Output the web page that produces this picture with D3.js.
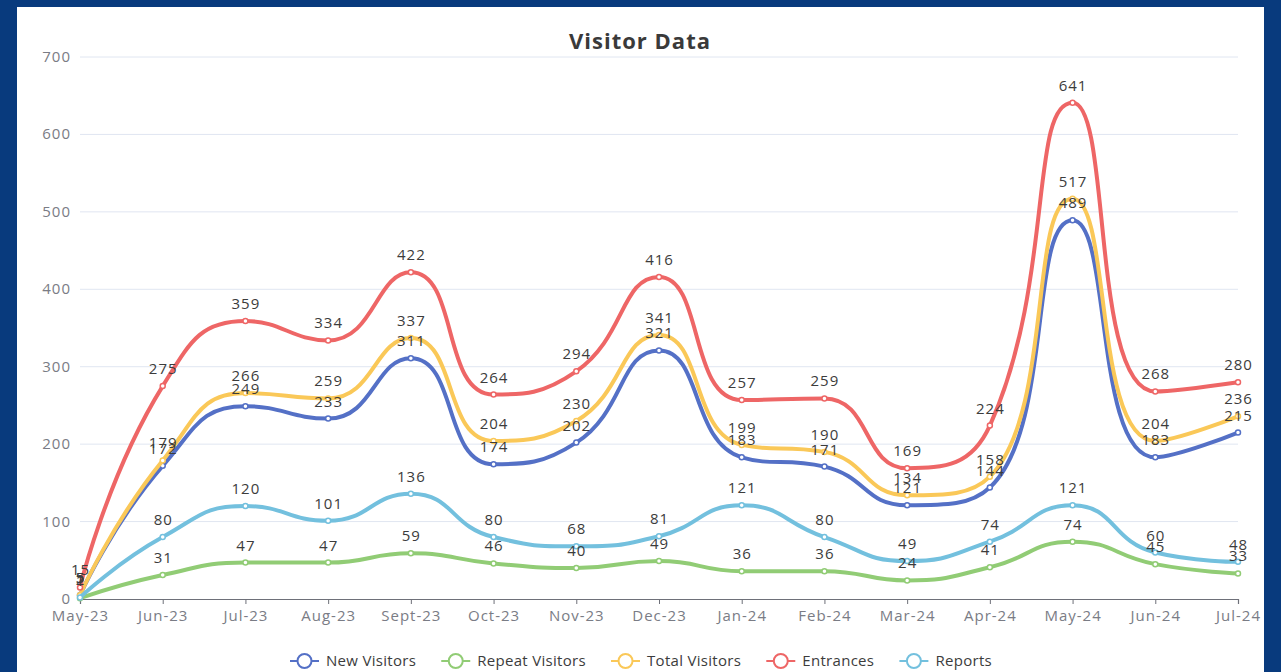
<!DOCTYPE html>
<html>
<head>
<meta charset="utf-8">
<script src="https://cdn.jsdelivr.net/npm/d3@7"></script>
<style>
  html, body { margin: 0; padding: 0; background: #083a7d; overflow: hidden; }
  #chart { position: absolute; left: 17px; top: 7px; width: 1247px; height: 680px; background: #fff; }
  text { font-family: "Open Sans", "Noto Sans", sans-serif; }
</style>
</head>
<body>
<div id="chart"></div>
<script>
// data
var months = ["May-23","Jun-23","Jul-23","Aug-23","Sept-23","Oct-23","Nov-23","Dec-23","Jan-24","Feb-24","Mar-24","Apr-24","May-24","Jun-24","Jul-24"];
var newVisitors    = [5,172,249,233,311,174,202,321,183,171,121,144,489,183,215];
var repeatVisitors = [1,31,47,47,59,46,40,49,36,36,24,41,74,45,33];
var totalVisitors  = [5,179,266,259,337,204,230,341,199,190,134,158,517,204,236];
var entrances      = [15,275,359,334,422,264,294,416,257,259,169,224,641,268,280];
var reports        = [2,80,120,101,136,80,68,81,121,80,49,74,121,60,48];
var yTicks = [0,100,200,300,400,500,600,700];

var seriesNames = ["New Visitors","Repeat Visitors","Total Visitors","Entrances","Reports"];
var seriesColors = ["#5470c6","#91cc75","#fac858","#ee6666","#73c0de"];
var series = [newVisitors, repeatVisitors, totalVisitors, entrances, reports].map(function(v,i){
  return {name: seriesNames[i], color: seriesColors[i], values: v};
});

// svg coords are page coords shifted by the white panel offset
var offX = 17, offY = 7;
var svg = d3.select("#chart").append("svg")
    .attr("width", 1247).attr("height", 680)
  .append("g")
    .attr("transform", "translate(" + (-offX) + "," + (-offY) + ")");

var x = d3.scalePoint().domain(months).range([80, 1238]);
var y = d3.scaleLinear().domain([0, 700]).range([599, 57]);

// title
svg.append("text")
  .attr("x", 640).attr("y", 49)
  .attr("text-anchor", "middle")
  .style("font-size", "22px").style("font-weight", "bold").style("fill", "#3a3a3a")
  .style("letter-spacing", "1px")
  .text("Visitor Data");

// grid + y labels
svg.selectAll(".grid").data(yTicks.filter(function(d){return d>0;})).enter().append("line")
  .attr("x1", 80).attr("x2", 1238)
  .attr("y1", function(d){return y(d);}).attr("y2", function(d){return y(d);})
  .style("stroke", "#e0e6f1").style("stroke-width", 1);

svg.selectAll(".ylab").data(yTicks).enter().append("text")
  .attr("x", 71).attr("y", function(d){return y(d) + 5;})
  .attr("text-anchor", "end")
  .style("font-size", "15px").style("fill", "#7a7c85").style("letter-spacing", "1px")
  .text(function(d){return d;});

// x axis
var xAxis = svg.append("g").attr("transform", "translate(0," + y(0) + ")")
  .call(d3.axisBottom(x).tickSize(5).tickPadding(6));
xAxis.select(".domain").style("stroke", "#6e7079").style("stroke-width", 1.2);
xAxis.selectAll(".tick line").style("stroke", "#6e7079");
xAxis.selectAll(".tick text").style("font-size", "15px").style("fill", "#7a7c85")
  .style("letter-spacing", "1px")
  .style("font-family", "'Open Sans', sans-serif");

// echarts-like smooth line (smooth 0.5, clamped control points)
function smoothPath(pts, smooth) {
  var p = d3.path();
  var prevX, prevY, cpx0, cpy0, cpx1, cpy1, nextCpx0, nextCpy0;
  for (var i = 0; i < pts.length; i++) {
    var px = pts[i][0], py = pts[i][1];
    if (i === 0) {
      p.moveTo(px, py); cpx0 = px; cpy0 = py;
    } else {
      if (i === pts.length - 1) {
        cpx1 = px; cpy1 = py;
      } else {
        var nx = pts[i+1][0], ny = pts[i+1][1];
        var vx = nx - prevX, vy = ny - prevY;
        var dx0 = px - prevX, dy0 = py - prevY, dx1 = nx - px, dy1 = ny - py;
        var lp = Math.sqrt(dx0*dx0 + dy0*dy0), ln = Math.sqrt(dx1*dx1 + dy1*dy1);
        var r = ln / (ln + lp);
        nextCpx0 = px + vx * smooth * r;
        nextCpy0 = py + vy * smooth * r;
        nextCpx0 = Math.max(Math.min(nextCpx0, Math.max(nx, px)), Math.min(nx, px));
        nextCpy0 = Math.max(Math.min(nextCpy0, Math.max(ny, py)), Math.min(ny, py));
        vx = nextCpx0 - px; vy = nextCpy0 - py;
        cpx1 = px - vx * lp / ln;
        cpy1 = py - vy * lp / ln;
        cpx1 = Math.max(Math.min(cpx1, Math.max(prevX, px)), Math.min(prevX, px));
        cpy1 = Math.max(Math.min(cpy1, Math.max(prevY, py)), Math.min(prevY, py));
        vx = px - cpx1; vy = py - cpy1;
        nextCpx0 = px + vx * ln / lp;
        nextCpy0 = py + vy * ln / lp;
      }
      p.bezierCurveTo(cpx0, cpy0, cpx1, cpy1, px, py);
      cpx0 = nextCpx0; cpy0 = nextCpy0;
    }
    prevX = px; prevY = py;
  }
  return p.toString();
}

series.forEach(function(s){
  var pts = s.values.map(function(v,i){ return [x(months[i]), y(v)]; });
  svg.append("path")
    .attr("d", smoothPath(pts, 0.5))
    .style("fill", "none").style("stroke", s.color).style("stroke-width", 4)
    .style("stroke-linejoin", "round");
  svg.selectAll(null).data(s.values).enter().append("circle")
    .attr("cx", function(d,i){return x(months[i]);})
    .attr("cy", function(d){return y(d);})
    .attr("r", 2.5)
    .style("fill", "#fff").style("stroke", s.color).style("stroke-width", 1.5);
});

// value labels on top
series.forEach(function(s){
  svg.selectAll(null).data(s.values).enter().append("text")
    .attr("x", function(d,i){return x(months[i]) + 0.5;})
    .attr("y", function(d){return y(d) - 12;})
    .attr("text-anchor", "middle")
    .style("font-size", "15px").style("fill", "#3c3c3c").style("letter-spacing", "1px")
    .text(function(d){return d;});
});

// legend
var legend = svg.append("g");
var widths = [];
var items = legend.selectAll("g").data(series).enter().append("g");
items.each(function(s){
  var g = d3.select(this);
  g.append("line").attr("x1", 0).attr("x2", 29).attr("y1", 0).attr("y2", 0)
    .style("stroke", s.color).style("stroke-width", 2);
  g.append("circle").attr("cx", 14.5).attr("cy", 0).attr("r", 7)
    .style("fill", "#fff").style("stroke", s.color).style("stroke-width", 2);
  var t = g.append("text").attr("x", 36).attr("y", 5)
    .style("font-size", "15px").style("fill", "#3c3c3c").style("letter-spacing", "0.3px")
    .text(s.name);
  widths.push(36 + t.node().getComputedTextLength());
});
var legendW = 702;
var gap = (legendW - d3.sum(widths)) / (widths.length - 1);
var lx = 0;
items.attr("transform", function(d,i){
  var tx = lx; lx += widths[i] + gap;
  return "translate(" + tx + ",0)";
});
legend.attr("transform", "translate(290,661)");
</script>
</body>
</html>
